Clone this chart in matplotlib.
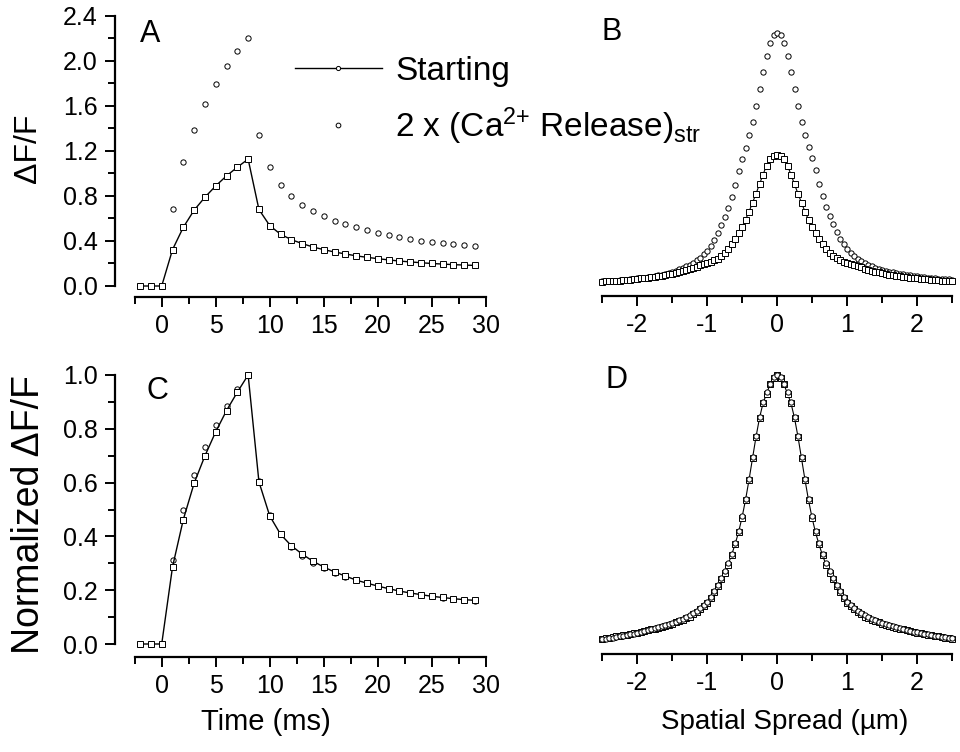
import numpy as np
import matplotlib.pyplot as plt
from matplotlib.lines import Line2D
from matplotlib.ticker import MultipleLocator, FormatStrFormatter

plt.rcParams['font.family'] = ['Liberation Sans', 'DejaVu Sans']
plt.rcParams['mathtext.fontset'] = 'custom'
plt.rcParams['mathtext.rm'] = 'Liberation Sans'
plt.rcParams['mathtext.it'] = 'Liberation Sans:italic'
plt.rcParams['axes.unicode_minus'] = False

# ---- time course (panels A, C) ----
t_ms = np.arange(-2, 30)
a_start = [0, 0, 0, 0.323, 0.522, 0.674, 0.789, 0.89, 0.979, 1.056, 1.128,
           0.68, 0.537, 0.46, 0.412, 0.377, 0.347, 0.323, 0.302, 0.285, 0.268,
           0.255, 0.243, 0.232, 0.222, 0.214, 0.207, 0.2, 0.195, 0.19, 0.186, 0.183]
a_double = [0, 0, 0, 0.688, 1.098, 1.389, 1.614, 1.795, 1.953, 2.089, 2.208,
            1.341, 1.056, 0.902, 0.798, 0.724, 0.668, 0.62, 0.582, 0.549, 0.522,
            0.499, 0.475, 0.454, 0.436, 0.418, 0.404, 0.392, 0.381, 0.371, 0.362, 0.355]

# ---- spatial profiles (panels B, D), -2.5 .. 2.5 um in 0.05 steps ----
x_um = np.linspace(-2.5, 2.5, 101)
b_start = [0.038, 0.04, 0.042, 0.044, 0.046, 0.048, 0.051, 0.054, 0.057, 0.06,
           0.063, 0.067, 0.071, 0.075, 0.079, 0.083, 0.088, 0.093, 0.098, 0.104,
           0.11, 0.117, 0.125, 0.134, 0.143, 0.153, 0.163, 0.173, 0.183, 0.193,
           0.203, 0.214, 0.227, 0.244, 0.266, 0.294, 0.33, 0.372, 0.42, 0.47,
           0.525, 0.59, 0.66, 0.74, 0.82, 0.905, 0.99, 1.07, 1.125, 1.155,
           1.165,
           1.155, 1.125, 1.07, 0.99, 0.905, 0.82, 0.74, 0.66, 0.59, 0.525,
           0.47, 0.42, 0.372, 0.33, 0.295, 0.267, 0.245, 0.228, 0.215, 0.204,
           0.194, 0.185, 0.175, 0.165, 0.155, 0.146, 0.137, 0.128, 0.12, 0.113,
           0.107, 0.102, 0.097, 0.092, 0.087, 0.083, 0.079, 0.075, 0.071, 0.067,
           0.064, 0.061, 0.058, 0.055, 0.052, 0.05, 0.048, 0.046, 0.044, 0.042]
b_double = [0.04, 0.042, 0.044, 0.046, 0.048, 0.05, 0.053, 0.056, 0.059, 0.063,
            0.067, 0.071, 0.075, 0.079, 0.084, 0.089, 0.095, 0.102, 0.11, 0.118,
            0.127, 0.137, 0.148, 0.16, 0.174, 0.19, 0.208, 0.228, 0.25, 0.28,
            0.315, 0.355, 0.41, 0.47, 0.54, 0.61, 0.69, 0.79, 0.9, 1.02,
            1.13, 1.23, 1.34, 1.46, 1.6, 1.75, 1.9, 2.04, 2.16, 2.235,
            2.25,
            2.235, 2.16, 2.04, 1.9, 1.75, 1.6, 1.46, 1.34, 1.235, 1.14,
            1.03, 0.91, 0.8, 0.7, 0.62, 0.55, 0.48, 0.42, 0.37, 0.33,
            0.295, 0.265, 0.24, 0.22, 0.205, 0.19, 0.176, 0.164, 0.153, 0.143,
            0.135, 0.127, 0.12, 0.114, 0.108, 0.103, 0.098, 0.094, 0.09, 0.086,
            0.082, 0.078, 0.075, 0.072, 0.069, 0.066, 0.063, 0.06, 0.058, 0.056]
d_start = [0.02, 0.022, 0.024, 0.026, 0.028, 0.03, 0.033, 0.035, 0.037, 0.04,
           0.042, 0.045, 0.048, 0.051, 0.054, 0.057, 0.06, 0.064, 0.068, 0.072,
           0.076, 0.08, 0.085, 0.09, 0.096, 0.102, 0.11, 0.119, 0.129, 0.14,
           0.152, 0.17, 0.192, 0.215, 0.24, 0.265, 0.295, 0.33, 0.37, 0.415,
           0.47, 0.535, 0.61, 0.69, 0.77, 0.84, 0.895, 0.93, 0.965, 0.99,
           1.0,
           0.99, 0.965, 0.93, 0.895, 0.84, 0.77, 0.69, 0.61, 0.535, 0.47,
           0.415, 0.37, 0.33, 0.295, 0.265, 0.24, 0.215, 0.192, 0.17, 0.152,
           0.14, 0.129, 0.119, 0.11, 0.102, 0.096, 0.09, 0.085, 0.08, 0.076,
           0.072, 0.068, 0.064, 0.06, 0.057, 0.054, 0.051, 0.048, 0.045, 0.042,
           0.04, 0.037, 0.035, 0.033, 0.03, 0.028, 0.026, 0.024, 0.022, 0.02]
d_double = [0.018, 0.02, 0.022, 0.024, 0.026, 0.028, 0.031, 0.033, 0.036, 0.039,
            0.042, 0.045, 0.048, 0.051, 0.054, 0.058, 0.062, 0.066, 0.07, 0.074,
            0.078, 0.083, 0.088, 0.093, 0.099, 0.106, 0.114, 0.123, 0.133, 0.144,
            0.156, 0.174, 0.196, 0.219, 0.244, 0.27, 0.3, 0.335, 0.374, 0.42,
            0.475, 0.54, 0.615, 0.695, 0.775, 0.845, 0.9, 0.935, 0.968, 0.992,
            1.0,
            0.992, 0.968, 0.935, 0.9, 0.845, 0.775, 0.695, 0.615, 0.54, 0.475,
            0.42, 0.374, 0.335, 0.3, 0.27, 0.244, 0.219, 0.196, 0.174, 0.156,
            0.144, 0.133, 0.123, 0.114, 0.106, 0.099, 0.093, 0.088, 0.083, 0.078,
            0.074, 0.07, 0.066, 0.062, 0.058, 0.055, 0.052, 0.049, 0.046, 0.043,
            0.041, 0.038, 0.036, 0.034, 0.031, 0.029, 0.027, 0.025, 0.023, 0.021]

c_start = np.array(a_start) / max(a_start)
c_double = np.array(a_double) / max(a_double)

W, H = 960, 752
fig = plt.figure(figsize=(W / 100, H / 100), dpi=100)


def px_axes(x0, y0, x1, y1):
    return fig.add_axes([x0 / W, 1 - y1 / H, (x1 - x0) / W, (y1 - y0) / H])


def style(ax, show_y, xoff):
    ax.patch.set_visible(False)
    for s in ['top', 'right']:
        ax.spines[s].set_visible(False)
    ax.spines['bottom'].set_position(('outward', xoff))
    ax.spines['bottom'].set_linewidth(1.6)
    if show_y:
        ax.spines['left'].set_position(('outward', 14))
        ax.spines['left'].set_linewidth(1.6)
    else:
        ax.spines['left'].set_visible(False)
        ax.set_yticks([])
    ax.tick_params(which='major', direction='out', length=7.5, width=1.4,
                   labelsize=18, pad=5)
    ax.tick_params(which='minor', direction='out', length=5, width=1.4)


sq = dict(marker='s', ms=4.2, mfc='white', mec='black', mew=0.7, clip_on=False)
ci = dict(marker='o', ms=3.8, mfc='white', mec='black', mew=0.7, clip_on=False)

axA = px_axes(134.7, 16, 485.8, 286)
axB = px_axes(602, 16, 952, 286)
axC = px_axes(134.7, 375, 485.8, 644)
axD = px_axes(602, 375, 952, 644)

# A
axA.plot(t_ms, a_double, ls='none', **ci)
axA.plot(t_ms, a_start, color='black', lw=1.0, **sq)
axA.set_xlim(-2.5, 30)
axA.set_ylim(0, 2.4)
axA.xaxis.set_major_locator(MultipleLocator(5))
axA.xaxis.set_minor_locator(MultipleLocator(2.5))
axA.yaxis.set_major_locator(MultipleLocator(0.4))
axA.yaxis.set_minor_locator(MultipleLocator(0.2))
axA.yaxis.set_major_formatter(FormatStrFormatter('%.1f'))
style(axA, True, 8)

h1 = Line2D([], [], color='black', lw=1.0, marker='o', ms=3.0, mfc='white',
            mec='black', mew=0.7)
h2 = Line2D([], [], ls='none', marker='o', ms=3.4, mfc='white', mec='black',
            mew=0.7)
axA.legend([h1, h2], ['Starting', '2 x (Ca$^{\\text{2+}}$ Release)$_{\\text{str}}$'],
           loc='upper left', bbox_to_anchor=(295 / W, 1 - 56 / H),
           bbox_transform=fig.transFigure, frameon=False, fontsize=24,
           handlelength=2.6, handletextpad=0.4, borderpad=0, borderaxespad=0,
           labelspacing=0.55, numpoints=1)

# B
axB.plot(x_um, b_double, ls='none', **ci)
axB.plot(x_um, b_start, color='black', lw=0.8, **sq)
axB.set_xlim(-2.5, 2.5)
axB.set_ylim(0, 2.4)
axB.xaxis.set_major_locator(MultipleLocator(1))
axB.xaxis.set_minor_locator(MultipleLocator(0.5))
style(axB, False, 7)

# C
axC.plot(t_ms, c_double, ls='none', **ci)
axC.plot(t_ms, c_start, color='black', lw=1.0, **sq)
axC.set_xlim(-2.5, 30)
axC.set_ylim(0, 1.0)
axC.xaxis.set_major_locator(MultipleLocator(5))
axC.xaxis.set_minor_locator(MultipleLocator(2.5))
axC.yaxis.set_major_locator(MultipleLocator(0.2))
axC.yaxis.set_minor_locator(MultipleLocator(0.1))
axC.yaxis.set_major_formatter(FormatStrFormatter('%.1f'))
style(axC, True, 9)

# D
axD.plot(x_um, d_start, color='black', lw=0.8, **sq)
axD.plot(x_um, d_double, ls='none', **ci)
axD.set_xlim(-2.5, 2.5)
axD.set_ylim(0, 1.0)
axD.xaxis.set_major_locator(MultipleLocator(1))
axD.xaxis.set_minor_locator(MultipleLocator(0.5))
style(axD, False, 7)

# panel letters and axis titles
for lab, (px, py) in zip('ABCD', [(150, 34), (612, 32), (157, 391), (617, 380)]):
    fig.text(px / W, 1 - py / H, lab, fontsize=22, ha='center', va='center')

fig.text(28 / W, 1 - 148 / H, 'ΔF/F', rotation=90, fontsize=23,
         ha='center', va='center')
fig.text(29 / W, 1 - 514 / H, 'Normalized ΔF/F', rotation=90, fontsize=27,
         ha='center', va='center')
fig.text(266 / W, 1 - 722 / H, 'Time (ms)', fontsize=21, ha='center', va='center')
fig.text(785 / W, 1 - 722 / H, 'Spatial Spread (µm)', fontsize=20,
         ha='center', va='center')

fig.savefig('out.png', dpi=100)
